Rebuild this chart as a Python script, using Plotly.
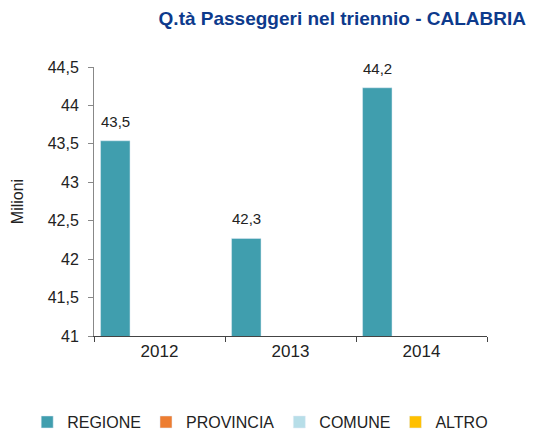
import plotly.graph_objects as go

years = ["2012", "2013", "2014"]
regione = [43.54, 42.27, 44.23]
provincia = [0, 0, 0]
comune = [0, 0, 0]
altro = [0, 0, 0]

series = [
    ("REGIONE", regione, "#409EAE"),
    ("PROVINCIA", provincia, "#ED7D31"),
    ("COMUNE", comune, "#B7DEE8"),
    ("ALTRO", altro, "#FFC000"),
]

fig = go.Figure()
for name, vals, col in series:
    fig.add_trace(go.Bar(x=years, y=vals, name=name, marker_color=col))

# value labels above the REGIONE bars (x given as category index)
for i, v in enumerate(regione):
    fig.add_annotation(x=i, y=v, xref="x", yref="y",
                       text=f"{v:.1f}".replace(".", ","),
                       showarrow=False, xanchor="center", yanchor="bottom",
                       xshift=-44, yshift=9,
                       font=dict(size=15, color="#222222"))

fig.update_layout(
    width=534, height=432,
    separators=",.",
    barmode="group", bargap=0.1, bargroupgap=0,
    plot_bgcolor="white", paper_bgcolor="white",
    font=dict(family="Liberation Sans, Arial, sans-serif", size=16, color="#222222"),
    margin=dict(l=94, r=47, t=67, b=96, autoexpand=False),
    title=dict(text="<b>Q.tà Passeggeri nel triennio - CALABRIA</b>",
               x=0.985, xanchor="right", xref="container",
               y=0.958, yanchor="middle", yref="container",
               font=dict(size=19, color="#0D3A8C")),
    legend=dict(orientation="h", xref="paper", yref="paper",
                x=-0.17, xanchor="left", y=-0.32, yanchor="middle",
                font=dict(size=16, color="#222222"), itemwidth=30,
                traceorder="normal"),
    yaxis=dict(range=[41, 44.5], dtick=0.5, tick0=41, showgrid=False,
               showline=True, linecolor="#888888", linewidth=1,
               ticks="outside", ticklen=5, tickcolor="#888888",
               ticklabelstandoff=6,
               tickfont=dict(size=16),
               title=dict(text="Milioni", font=dict(size=16), standoff=20),
               zeroline=False),
    xaxis=dict(type="category", categoryorder="array", categoryarray=years,
               range=[-0.5, len(years) - 0.5],
               showline=True, linecolor="#444444", linewidth=1,
               ticks="outside", ticklen=5, tickcolor="#444444",
               tickson="boundaries", showgrid=False,
               tickfont=dict(size=17)),
)

fig.write_html("out.html", config={"displayModeBar": False},
               post_script="document.body.style.margin='0';")
